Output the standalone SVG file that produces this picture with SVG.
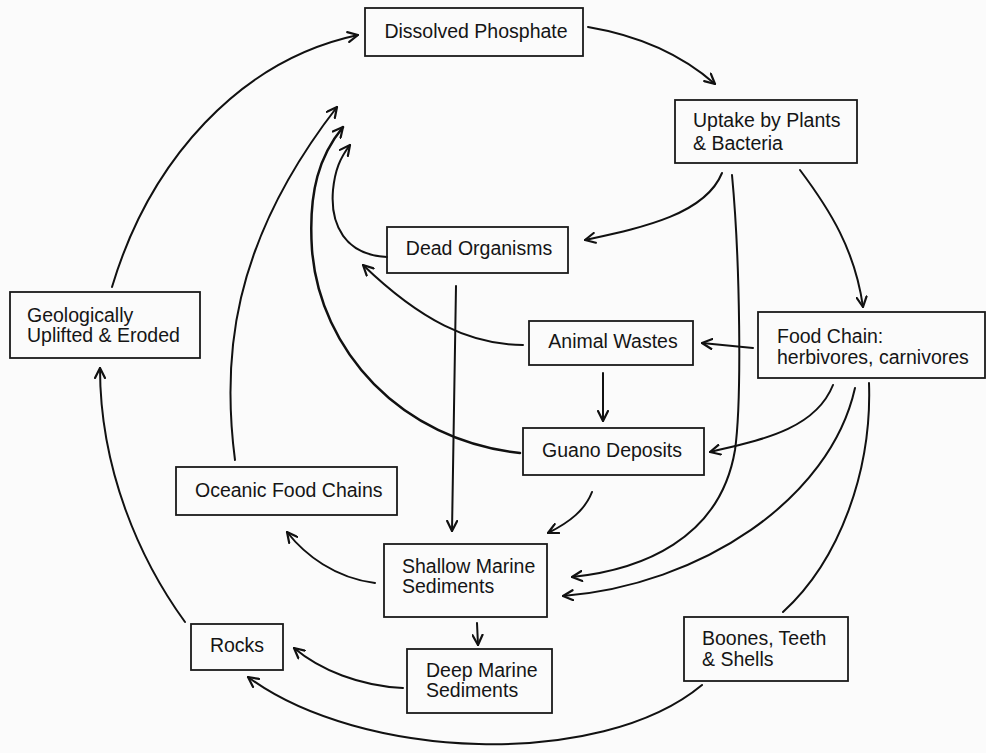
<svg xmlns="http://www.w3.org/2000/svg" width="986" height="753" viewBox="0 0 986 753">
<style>
.box{fill:none;stroke:#1a1a1a;stroke-width:1.8}
.t{font-family:"Liberation Sans",Arial,Helvetica,sans-serif;font-size:19.5px;fill:#151515}
.c{fill:none;stroke:#111;stroke-width:2;stroke-linecap:round}
.a{marker-end:url(#arr)}
</style>
<defs>
<marker id="arr" viewBox="0 0 12 12" refX="11" refY="6" markerWidth="12" markerHeight="12" markerUnits="userSpaceOnUse" orient="auto">
<path d="M1,1 L11,6 L1,11" fill="none" stroke="#111" stroke-width="2.2" stroke-linecap="round" stroke-linejoin="round"/>
</marker>
</defs>
<rect width="986" height="753" fill="#fbfbfb"/>

<g id="connectors">
<path class="c a" d="M588,27 Q665,40 715,84"/>
<path class="c a" d="M112,287 C150,160 240,60 358,35"/>
<path class="c a" d="M185,622 C140,560 100,470 100,368"/>
<path class="c a" d="M403,688 C360,686 320,670 294,648"/>
<path class="c a" d="M702,685 C600,770 360,760 248,677"/>
<path class="c" d="M869,383 C872,470 840,560 783,612"/>
<path class="c a" d="M800,170 C830,210 855,250 863,307"/>
<path class="c a" d="M722,173 C705,215 640,228 585,240"/>
<path class="c a" d="M732,175 C740,260 742,400 735,450 C720,540 640,570 572,577"/>
<path class="c a" d="M753,348 L702,343"/>
<path class="c a" d="M833,385 C815,430 760,440 710,452"/>
<path class="c a" d="M855,388 C830,500 700,585 563,596"/>
<path class="c a" d="M603,373 L603,421"/>
<path class="c a" d="M592,492 C585,510 570,522 548,533"/>
<path class="c a" d="M456,286 L452,531"/>
<path class="c a" d="M477,623 L478,645"/>
<path class="c a" d="M375,583 C335,578 305,555 287,532"/>
<path class="c a" d="M235,460 C222,360 230,245 337,107"/>
<path class="c a" style="stroke-width:2.5" d="M520,453 C400,440 320,350 312,250 C308,190 320,155 343,127"/>
<path class="c a" d="M387,257 C345,255 330,225 333,190 C335,170 340,158 350,145"/>
<path class="c a" d="M523,345 C470,345 420,320 363,265"/>
</g>

<g id="dissolved-phosphate">
<rect class="box" x="365" y="8" width="218" height="48"/>
<text class="t" x="476" y="38" text-anchor="middle">Dissolved Phosphate</text>
</g>
<g id="uptake">
<rect class="box" x="675" y="100" width="182" height="63"/>
<text class="t" x="693" y="127">Uptake by Plants</text>
<text class="t" x="693" y="150">&amp; Bacteria</text>
</g>
<g id="food-chain">
<rect class="box" x="758" y="312" width="227" height="66"/>
<text class="t" x="777" y="343">Food Chain:</text>
<text class="t" x="777" y="364">herbivores, carnivores</text>
</g>
<g id="animal-wastes">
<rect class="box" x="529" y="321" width="164" height="44"/>
<text class="t" x="613" y="348" text-anchor="middle">Animal Wastes</text>
</g>
<g id="dead-organisms">
<rect class="box" x="387" y="227" width="181" height="46"/>
<text class="t" x="479" y="255" text-anchor="middle">Dead Organisms</text>
</g>
<g id="guano-deposits">
<rect class="box" x="523" y="428" width="181" height="47"/>
<text class="t" x="612" y="457" text-anchor="middle">Guano Deposits</text>
</g>
<g id="geologically-uplifted">
<rect class="box" x="10" y="292" width="190" height="66"/>
<text class="t" x="27" y="322">Geologically</text>
<text class="t" x="27" y="342">Uplifted &amp; Eroded</text>
</g>
<g id="oceanic-food-chains">
<rect class="box" x="176" y="467" width="221" height="48"/>
<text class="t" x="195" y="497">Oceanic Food Chains</text>
</g>
<g id="shallow-marine">
<rect class="box" x="384" y="544" width="163" height="73"/>
<text class="t" x="402" y="573">Shallow Marine</text>
<text class="t" x="402" y="593">Sediments</text>
</g>
<g id="rocks">
<rect class="box" x="191" y="624" width="92" height="46"/>
<text class="t" x="237" y="652" text-anchor="middle">Rocks</text>
</g>
<g id="deep-marine">
<rect class="box" x="407" y="649" width="145" height="64"/>
<text class="t" x="426" y="677">Deep Marine</text>
<text class="t" x="426" y="697">Sediments</text>
</g>
<g id="boones-teeth-shells">
<rect class="box" x="684" y="617" width="164" height="64"/>
<text class="t" x="702" y="645">Boones, Teeth</text>
<text class="t" x="702" y="666">&amp; Shells</text>
</g>
</svg>
